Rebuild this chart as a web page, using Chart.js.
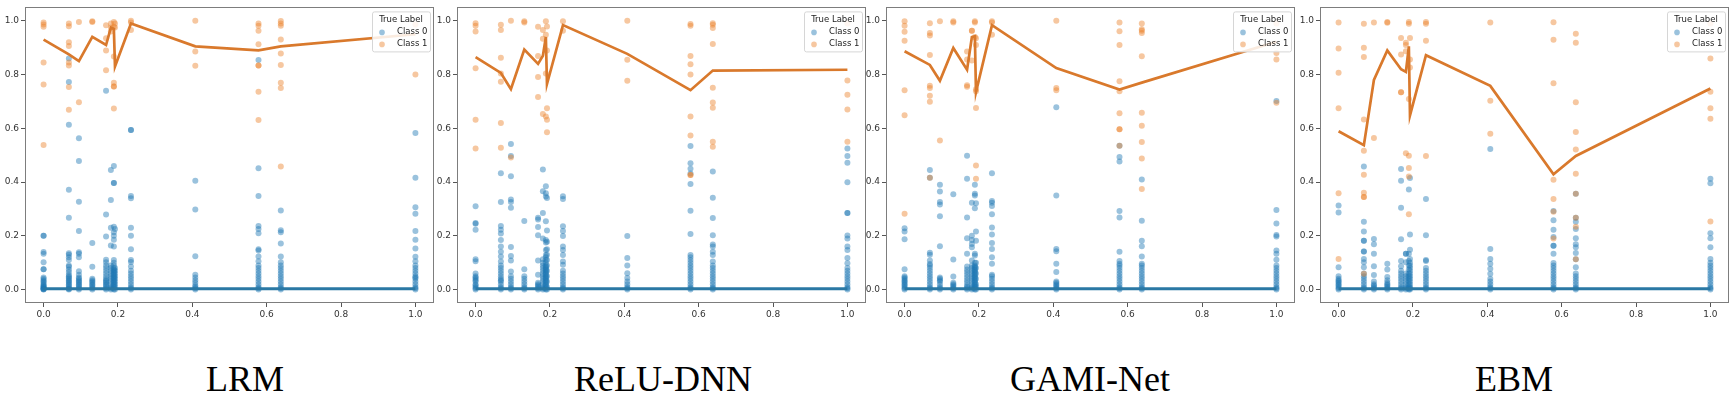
<!DOCTYPE html>
<html>
<head>
<meta charset="utf-8">
<script src="https://cdn.jsdelivr.net/npm/chart.js@4.4.1/dist/chart.umd.min.js"></script>
<style>
  html, body { margin:0; padding:0; background:#fff; }
  body { width:1735px; height:398px; position:relative; overflow:hidden; }
  .panel { position:absolute; top:0; }
  .title { position:absolute; top:361px; font-family:"Liberation Serif","Times New Roman",serif; font-size:36px; line-height:36px; color:#000; transform:translateX(-50%); white-space:nowrap; }
</style>
</head>
<body>
<canvas id="c1" class="panel"></canvas>
<canvas id="c2" class="panel"></canvas>
<canvas id="c3" class="panel"></canvas>
<canvas id="c4" class="panel"></canvas>
<div class="title" style="left:245px">LRM</div>
<div class="title" style="left:663px">ReLU-DNN</div>
<div class="title" style="left:1090px">GAMI-Net</div>
<div class="title" style="left:1514px">EBM</div>
<script>
// ---- shared categories / ticks ----
const X = [0, 0.068, 0.095, 0.131, 0.168, 0.181, 0.189, 0.192, 0.235, 0.408, 0.578, 0.638, 1.0];
const tickValues = [0, 0.2, 0.4, 0.6, 0.8, 1.0];
const panelTitles = ["LRM", "ReLU-DNN", "GAMI-Net", "EBM"];
const legendTitle = "True Label";
const seriesNames = ["Class 0", "Class 1"];

// ---- LRM ----
const lrmClass0 = [
  [0.2,0.2,0.14,0.133,0.102,0.076,0.076,0.045,0.04,0.035,0.03,0.025,0.02,0.015,0.012,0.01,0.008,0.005,0.003,0.002,0.001,0],
  [0.86,0.772,0.613,0.371,0.267,0.135,0.13,0.12,0.11,0.09,0.085,0.075,0.065,0.055,0.05,0.045,0.04,0.035,0.03,0.025,0.02,0.015,0.01,0.005,0.002,0],
  [0.563,0.478,0.327,0.218,0.139,0.133,0.12,0.068,0.055,0.045,0.04,0.035,0.03,0.025,0.02,0.015,0.01,0.005,0],
  [0.173,0.085,0.04,0.035,0.03,0.025,0.02,0.015,0.01,0.005,0],
  [0.74,0.279,0.197,0.111,0.102,0.09,0.08,0.07,0.06,0.05,0.04,0.035,0.03,0.025,0.02,0.015,0.01,0.005,0],
  [0.445,0.333,0.23,0.164,0.09,0.08,0.07,0.06,0.05,0.04,0.03,0.02,0.01,0.005,0],
  [0.46,0.397,0.397,0.234,0.213,0.2,0.185,0.16,0.11,0.1,0.09,0.08,0.075,0.07,0.065,0.06,0.055,0.05,0.045,0.04,0.035,0.03,0.025,0.02,0.015,0.01,0.005,0],
  [0.225,0.08,0.07,0.06,0.05,0.04,0.03,0.02,0.01,0],
  [0.594,0.594,0.348,0.34,0.23,0.2,0.15,0.11,0.103,0.086,0.07,0.06,0.05,0.04,0.03,0.02,0.01,0.005,0],
  [0.405,0.298,0.124,0.055,0.045,0.035,0.025,0.015,0.01,0.005,0],
  [0.854,0.451,0.348,0.237,0.225,0.21,0.15,0.145,0.123,0.105,0.09,0.08,0.07,0.06,0.05,0.04,0.03,0.02,0.01,0.005,0],
  [0.294,0.221,0.213,0.171,0.123,0.102,0.09,0.08,0.07,0.06,0.05,0.04,0.03,0.02,0.01,0.005,0],
  [0.583,0.416,0.306,0.282,0.218,0.185,0.153,0.122,0.105,0.09,0.08,0.07,0.06,0.05,0.045,0.04,0.03,0.02,0.01,0.005,0]
];
const lrmClass1 = [
  [0.994,0.986,0.978,0.845,0.763,0.538],
  [0.99,0.98,0.92,0.906,0.845,0.834,0.754,0.669],
  [0.996,0.697],
  [0.998,0.996],
  [0.984,0.935,0.89,0.816],
  [0.99,0.975,0.96],
  [0.996,0.978,0.867,0.77,0.756,0.756,0.674],
  [0.99,0.975],
  [1.0,0.994,0.966],
  [1.0,0.886,0.833],
  [0.99,0.982,0.963,0.913,0.834,0.834,0.736,0.631],
  [0.999,0.99,0.982,0.931,0.878,0.836,0.77,0.75,0.458],
  [0.986,0.8]
];
const lrmLine0 = [0.003,0.003,0.003,0.003,0.003,0.003,0.003,0.003,0.003,0.003,0.003,0.003,0.003];
const lrmLine1 = [0.93,0.875,0.85,0.94,0.91,0.975,0.97,0.83,0.99,0.905,0.89,0.905,0.95];

// ---- ReLU-DNN ----
const dnnClass0 = [
  [0.31,0.248,0.245,0.223,0.113,0.105,0.06,0.05,0.045,0.04,0.035,0.03,0.02,0.015,0.01,0.005,0],
  [0.433,0.326,0.237,0.223,0.209,0.184,0.16,0.141,0.123,0.104,0.09,0.08,0.07,0.06,0.05,0.04,0.035,0.03,0.02,0.01,0.005,0],
  [0.542,0.497,0.422,0.335,0.326,0.304,0.158,0.125,0.108,0.067,0.05,0.04,0.03,0.02,0.01,0.005,0],
  [0.255,0.076,0.05,0.04,0.03,0.02,0.01,0.005,0],
  [0.267,0.261,0.233,0.202,0.108,0.055,0.025,0.02,0.015,0.01,0.005,0],
  [0.447,0.366,0.285,0.19,0.113,0.1,0.09,0.08,0.07,0.06,0.05,0.04,0.03,0.02,0.01,0.005,0],
  [0.384,0.358,0.346,0.254,0.184,0.175,0.147,0.129,0.12,0.11,0.1,0.09,0.085,0.08,0.075,0.07,0.065,0.06,0.055,0.05,0.045,0.04,0.035,0.03,0.025,0.02,0.015,0.01,0.005,0],
  [0.341,0.22,0.178,0.15,0.13,0.11,0.09,0.07,0.05,0.03,0.01,0],
  [0.347,0.337,0.236,0.218,0.199,0.16,0.147,0.129,0.104,0.092,0.07,0.06,0.05,0.04,0.03,0.02,0.01,0.005,0],
  [0.199,0.117,0.09,0.061,0.043,0.03,0.02,0.01,0.005,0],
  [0.534,0.47,0.45,0.432,0.393,0.293,0.207,0.129,0.12,0.11,0.1,0.09,0.08,0.07,0.06,0.05,0.04,0.03,0.02,0.01,0.005,0],
  [0.439,0.342,0.266,0.202,0.168,0.16,0.141,0.129,0.104,0.09,0.08,0.07,0.06,0.05,0.04,0.03,0.02,0.01,0.005,0],
  [0.525,0.497,0.472,0.399,0.285,0.285,0.201,0.19,0.16,0.147,0.117,0.098,0.08,0.07,0.06,0.05,0.04,0.03,0.02,0.01,0.005,0]
];
const dnnClass1 = [
  [0.991,0.982,0.96,0.824,0.632,0.525],
  [0.985,0.966,0.863,0.804,0.773,0.62,0.528],
  [1.0,0.491],
  [0.998,0.994],
  [0.978,0.869,0.791,0.717],
  [0.966,0.933,0.653],
  [0.998,0.948,0.804,0.644],
  [0.979,0.89,0.675,0.632,0.585],
  [0.998,0.963],
  [1.0,0.855,0.777],
  [0.988,0.982,0.869,0.838,0.8,0.644,0.573,0.426,0.426],
  [0.991,0.985,0.973,0.914,0.751,0.696,0.677,0.55,0.531],
  [0.99,0.778,0.725,0.67,0.55]
];
const dnnLine0 = [0.003,0.003,0.003,0.003,0.003,0.003,0.003,0.003,0.003,0.003,0.003,0.003,0.003];
const dnnLine1 = [0.865,0.806,0.746,0.893,0.84,0.87,0.94,0.765,0.984,0.877,0.742,0.815,0.818];

// ---- GAMI-Net ----
const gamiClass0 = [
  [0.228,0.216,0.187,0.076,0.05,0.045,0.04,0.035,0.03,0.025,0.02,0.015,0.01,0.005,0],
  [0.445,0.416,0.137,0.13,0.108,0.095,0.09,0.08,0.07,0.06,0.05,0.04,0.03,0.02,0.01,0.005,0],
  [0.39,0.365,0.326,0.317,0.273,0.161,0.045,0.04,0.035,0.03,0.02,0.01,0.005,0],
  [0.355,0.112,0.049,0.025,0.02,0.015,0.01,0.005,0],
  [0.498,0.412,0.268,0.191,0.133,0.086,0.075,0.065,0.055,0.045,0.035,0.025,0.015,0.01,0.005,0],
  [0.323,0.2,0.184,0.17,0.157,0.108,0.09,0.08,0.07,0.06,0.05,0.04,0.03,0.02,0.01,0.005,0],
  [0.39,0.357,0.35,0.303,0.133,0.127,0.1,0.09,0.085,0.08,0.075,0.07,0.065,0.06,0.055,0.05,0.045,0.04,0.035,0.03,0.025,0.02,0.015,0.01,0.005,0],
  [0.321,0.216,0.182,0.1,0.08,0.06,0.04,0.02,0.01,0],
  [0.433,0.33,0.323,0.311,0.28,0.231,0.205,0.173,0.151,0.12,0.096,0.055,0.05,0.04,0.03,0.02,0.01,0.005,0],
  [0.678,0.35,0.151,0.143,0.096,0.065,0.03,0.025,0.02,0.015,0.01,0.005,0],
  [0.535,0.493,0.477,0.292,0.268,0.141,0.106,0.096,0.09,0.08,0.07,0.06,0.05,0.04,0.03,0.02,0.01,0.005,0],
  [0.41,0.256,0.182,0.161,0.123,0.096,0.09,0.08,0.07,0.06,0.05,0.04,0.03,0.02,0.01,0.005,0],
  [0.702,0.296,0.246,0.203,0.197,0.145,0.133,0.111,0.09,0.08,0.07,0.06,0.05,0.04,0.03,0.02,0.01,0.005,0]
];
const gamiClass1 = [
  [0.998,0.982,0.959,0.926,0.742,0.649,0.282],
  [0.991,0.955,0.945,0.873,0.758,0.75,0.721,0.699,0.416],
  [0.998,0.555],
  [0.998,0.994],
  [0.886,0.856,0.76,0.755],
  [0.963,0.963,0.852],
  [0.998,0.994,0.94],
  [0.935,0.91,0.745,0.738,0.676,0.462,0.412],
  [0.998,0.994,0.948],
  [1.0,0.75,0.742],
  [0.994,0.961,0.91,0.775,0.738,0.656,0.597,0.597,0.535],
  [0.99,0.969,0.963,0.955,0.868,0.658,0.61,0.549,0.488,0.374],
  [0.99,0.88,0.856,0.695]
];
const gamiLine0 = [0.003,0.003,0.003,0.003,0.003,0.003,0.003,0.003,0.003,0.003,0.003,0.003,0.003];
const gamiLine1 = [0.887,0.836,0.777,0.899,0.818,0.94,0.943,0.735,0.984,0.824,0.744,0.77,0.922];

// ---- EBM ----
const ebmClass0 = [
  [0.313,0.287,0.083,0.05,0.04,0.035,0.03,0.025,0.02,0.015,0.01,0.005,0],
  [0.458,0.252,0.216,0.182,0.182,0.142,0.142,0.114,0.102,0.083,0.06,0.05,0.04,0.03,0.02,0.01,0.005,0],
  [0.188,0.169,0.133,0.087,0.054,0.03,0.02,0.015,0.01,0.005,0],
  [0.096,0.075,0.047,0.035,0.025,0.02,0.015,0.01,0.005,0],
  [0.449,0.405,0.304,0.187,0.106,0.087,0.07,0.06,0.05,0.04,0.03,0.02,0.01,0.005,0],
  [0.133,0.133,0.102,0.06,0.05,0.04,0.03,0.02,0.01,0.005,0],
  [0.372,0.133,0.106,0.09,0.075,0.06,0.05,0.04,0.03,0.02,0.01,0.005,0],
  [0.415,0.205,0.148,0.114,0.1,0.09,0.08,0.07,0.06,0.05,0.04,0.03,0.02,0.01,0.005,0],
  [0.337,0.202,0.11,0.106,0.08,0.07,0.06,0.05,0.04,0.03,0.02,0.01,0.005,0],
  [0.523,0.151,0.114,0.096,0.077,0.059,0.04,0.03,0.02,0.01,0.005,0],
  [0.292,0.258,0.223,0.196,0.163,0.163,0.133,0.099,0.09,0.08,0.07,0.06,0.05,0.04,0.03,0.02,0.01,0.005,0],
  [0.357,0.267,0.252,0.225,0.191,0.169,0.157,0.136,0.113,0.083,0.06,0.05,0.04,0.03,0.02,0.01,0.005,0],
  [0.412,0.396,0.21,0.191,0.157,0.114,0.1,0.09,0.08,0.07,0.06,0.05,0.04,0.03,0.02,0.01,0.005,0]
];
const ebmClass1 = [
  [0.994,0.897,0.807,0.675,0.358,0.114],
  [0.989,0.9,0.865,0.633,0.517,0.427,0.36,0.344,0.344,0.059],
  [0.994,0.564],
  [0.996,0.993],
  [0.936,0.875,0.734,0.734],
  [0.918,0.91,0.887,0.507],
  [0.996,0.989,0.709,0.498,0.452,0.421,0.28],
  [0.936,0.856,0.826],
  [0.996,0.989,0.926,0.497],
  [0.994,0.703,0.58],
  [0.995,0.93,0.768,0.409,0.337,0.29,0.19],
  [0.952,0.918,0.697,0.586,0.521,0.431,0.357,0.267,0.234,0.113],
  [0.99,0.86,0.736,0.675,0.636,0.253]
];
const ebmLine0 = [0.003,0.003,0.003,0.003,0.003,0.003,0.003,0.003,0.003,0.003,0.003,0.003,0.003];
const ebmLine1 = [0.589,0.537,0.78,0.89,0.82,0.81,0.905,0.648,0.872,0.758,0.429,0.497,0.748];

// ---- build ----
function scatterPts(vals) {
  const out = [];
  vals.forEach((ys, i) => ys.forEach(y => out.push({x: X[i], y: y})));
  return out;
}
function linePts(vals) { return vals.map((y, i) => ({x: X[i], y: y})); }

const BLUE_PT = 'rgba(31,119,180,0.45)';
const ORANGE_PT = 'rgba(235,130,45,0.45)';
const BLUE_LINE = '#2a78a4';
const ORANGE_LINE = '#d9792c';

const frameLegend = {
  id: 'frameLegend',
  afterDraw(chart) {
    const ctx = chart.ctx, a = chart.chartArea;
    ctx.save();
    ctx.strokeStyle = '#7d7d7d';
    ctx.lineWidth = 1;
    ctx.strokeRect(Math.round(a.left) + 0.5, Math.round(a.top) + 0.5,
                   Math.round(a.right - a.left) - 1, Math.round(a.bottom - a.top) - 1);
    const w = 58, h = 40;
    const bx = a.right - 4 - w, by = a.top + 4;
    ctx.fillStyle = 'rgba(255,255,255,0.85)';
    ctx.strokeStyle = '#d6d6d6';
    ctx.beginPath();
    if (ctx.roundRect) ctx.roundRect(bx + 0.5, by + 0.5, w, h, 2); else ctx.rect(bx + 0.5, by + 0.5, w, h);
    ctx.fill(); ctx.stroke();
    ctx.font = '8.5px "DejaVu Sans", sans-serif';
    ctx.fillStyle = '#222';
    ctx.textBaseline = 'middle';
    ctx.textAlign = 'center';
    ctx.fillText(legendTitle, bx + w / 2, by + 8);
    ctx.textAlign = 'left';
    const cols = [BLUE_PT, ORANGE_PT];
    seriesNames.forEach((nm, k) => {
      const yy = by + 20 + k * 12;
      ctx.fillStyle = cols[k];
      ctx.beginPath(); ctx.arc(bx + 10, yy + 1, 2.8, 0, Math.PI * 2); ctx.fill();
      ctx.fillStyle = '#222';
      ctx.fillText(nm, bx + 25, yy);
    });
    ctx.restore();
  }
};

const panels = [
  {id: 'c1', L: 25,   R: 434,  T: 5, B: 303, c0: lrmClass0,  c1: lrmClass1,  l0: lrmLine0,  l1: lrmLine1},
  {id: 'c2', L: 457,  R: 866,  T: 5, B: 303, c0: dnnClass0,  c1: dnnClass1,  l0: dnnLine0,  l1: dnnLine1},
  {id: 'c3', L: 886,  R: 1295, T: 5, B: 303, c0: gamiClass0, c1: gamiClass1, l0: gamiLine0, l1: gamiLine1},
  {id: 'c4', L: 1320, R: 1729, T: 4, B: 303, c0: ebmClass0,  c1: ebmClass1,  l0: ebmLine0,  l1: ebmLine1}
];

const YW = 25, XH = 20, CH = 330, RP = 4;

panels.forEach(p => {
  const cv = document.getElementById(p.id);
  const cw = (p.R - p.L) + YW + RP;
  cv.width = cw; cv.height = CH;
  cv.style.left = (p.L - YW) + 'px';
  cv.style.width = cw + 'px'; cv.style.height = CH + 'px';
  const tickFont = {family: '"DejaVu Sans", sans-serif', size: 9};
  new Chart(cv, {
    type: 'scatter',
    data: {
      datasets: [
        {label: 'line1', data: linePts(p.l1), showLine: true, borderColor: ORANGE_LINE, borderWidth: 2.7, pointRadius: 0, order: 0, tension: 0},
        {label: 'line0', data: linePts(p.l0), showLine: true, borderColor: BLUE_LINE, borderWidth: 3, pointRadius: 0, order: 1, tension: 0},
        {label: seriesNames[1], data: scatterPts(p.c1), backgroundColor: ORANGE_PT, borderWidth: 0, pointRadius: 3, order: 2},
        {label: seriesNames[0], data: scatterPts(p.c0), backgroundColor: BLUE_PT, borderWidth: 0, pointRadius: 3, order: 3}
      ]
    },
    options: {
      responsive: false,
      animation: false,
      devicePixelRatio: 1,
      layout: {padding: {left: 0, right: RP, top: p.T, bottom: CH - p.B - XH}},
      plugins: {legend: {display: false}, tooltip: {enabled: false}, title: {display: false}},
      scales: {
        x: {
          type: 'linear', min: -0.05, max: 1.05,
          afterBuildTicks: s => { s.ticks = tickValues.map(v => ({value: v})); },
          afterFit: s => { s.height = XH; },
          grid: {drawOnChartArea: false, drawTicks: true, tickLength: 4, color: '#555'},
          border: {display: false},
          ticks: {font: tickFont, color: '#333', padding: 2, maxRotation: 0, callback: v => Number(v).toFixed(1)}
        },
        y: {
          type: 'linear', min: -0.05, max: 1.05,
          afterBuildTicks: s => { s.ticks = tickValues.map(v => ({value: v})); },
          afterFit: s => { s.width = YW; },
          grid: {drawOnChartArea: false, drawTicks: true, tickLength: 4, color: '#555'},
          border: {display: false},
          ticks: {font: tickFont, color: '#333', padding: 2, callback: v => Number(v).toFixed(1)}
        }
      }
    },
    plugins: [frameLegend]
  });
});
</script>
</body>
</html>
